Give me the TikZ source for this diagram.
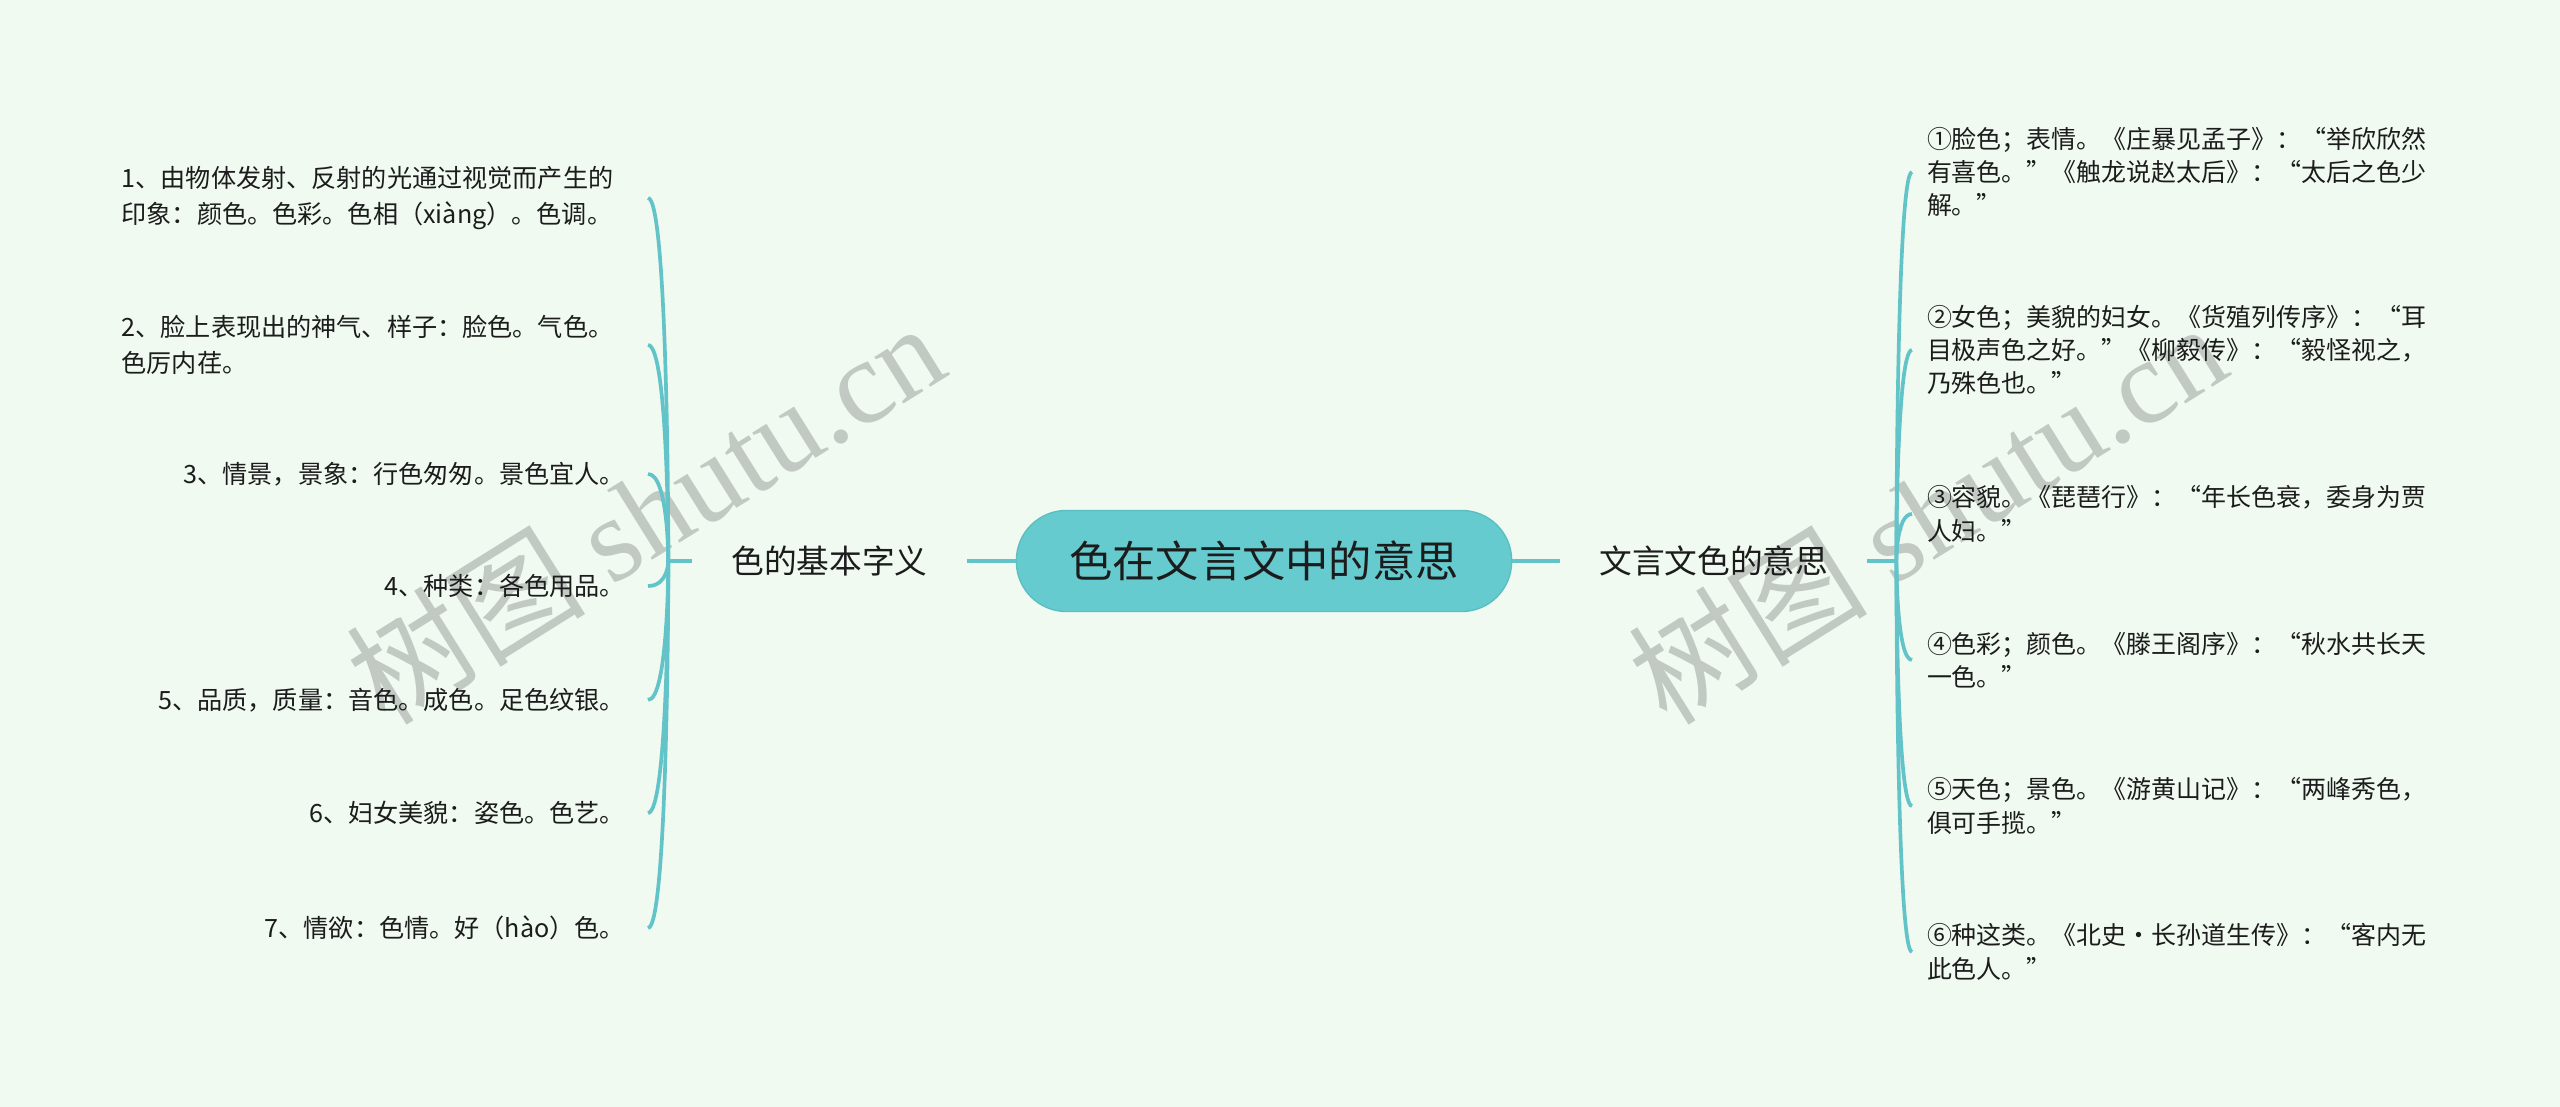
\documentclass[tikz,border=0pt]{standalone}
\usepackage{fontspec}
\setmainfont{Noto Sans CJK SC}
\newfontfamily\wmserif{Liberation Serif}
\usetikzlibrary{positioning}

\definecolor{bgmint}{RGB}{240,250,240}
\definecolor{tealfill}{RGB}{102,203,207}
\definecolor{tealedge}{RGB}{92,190,195}
\definecolor{tealline}{RGB}{98,196,201}
\definecolor{wmgray}{RGB}{194,201,195}
\definecolor{inkc}{RGB}{28,28,28}

\tikzset{
  root/.style={draw=tealedge, fill=tealfill, rounded corners=0.5cm, minimum width=4.95cm, minimum height=1.01cm, inner sep=0pt, text=inkc, font=\fontsize{12.3pt}{14pt}\selectfont},
  branch/.style={inner sep=0pt, outer xsep=0.39cm, text=inkc, font=\fontsize{9.3pt}{11pt}\selectfont},
  leafl/.style={anchor=east, text width=5.03cm, align=right, inner sep=0pt, outer xsep=0.23cm, text=inkc, font=\fontsize{7.15pt}{10.2pt}\selectfont},
  leafr/.style={anchor=west, text width=5.05cm, align=left, inner sep=0pt, outer xsep=0.15cm, text=inkc, font=\fontsize{7.1pt}{9.5pt}\selectfont},
  link/.style={draw=tealline, line width=1.05pt},
  wmark/.style={text=wmgray, inner sep=0pt, font=\fontsize{34pt}{36pt}\selectfont}
}

\begin{document}
\begin{tikzpicture}[x=0.01cm, y=-0.01cm]
  \path[use as bounding box, fill=bgmint] (0,0) rectangle (2560,1107);

  % watermarks
  \node (wm1) [wmark, rotate=32] at (645,512) {树图 {\wmserif shutu.cn}};
  \node (wm2) [wmark, rotate=32] at (1927,512) {树图 {\wmserif shutu.cn}};

  \node (root) [root] at (1264,561) {色在文言文中的意思};
  \node (bl) [branch, left=0.49cm of root] {色的基本字义};
  \node (br) [branch, right=0.48cm of root] {文言文色的意思};
  \coordinate [left=0.24cm of bl] (kl);
  \coordinate [right=0.29cm of br] (kr);

  % left leaves
  \node (l1) [leafl, align=left] at (648,198) {1、由物体发射、反射的光通过视觉而产生的\\印象：颜色。色彩。色相（xiàng）。色调。};
  \node (l2) [leafl, align=left] at (648,345) {2、脸上表现出的神气、样子：脸色。气色。\\色厉内荏。};
  \node (l3) [leafl] at (648,474) {3、情景，景象：行色匆匆。景色宜人。};
  \node (l4) [leafl] at (648,586) {4、种类：各色用品。};
  \node (l5) [leafl] at (648,700) {5、品质，质量：音色。成色。足色纹银。};
  \node (l6) [leafl] at (648,813) {6、妇女美貌：姿色。色艺。};
  \node (l7) [leafl] at (648,928) {7、情欲：色情。好（hào）色。};

  % right leaves
  \node (r1) [leafr] at (1912,172) {①脸色；表情。《庄暴见孟子》：“举欣欣然\\有喜色。”《触龙说赵太后》：“太后之色少\\解。”};
  \node (r2) [leafr] at (1912,350) {②女色；美貌的妇女。《货殖列传序》：“耳\\目极声色之好。”《柳毅传》：“毅怪视之，\\乃殊色也。”};
  \node (r3) [leafr] at (1912,514) {③容貌。《琵琶行》：“年长色衰，委身为贾\\人妇。”};
  \node (r4) [leafr] at (1912,660) {④色彩；颜色。《滕王阁序》：“秋水共长天\\一色。”};
  \node (r5) [leafr] at (1912,806) {⑤天色；景色。《游黄山记》：“两峰秀色，\\俱可手揽。”};
  \node (r6) [leafr] at (1912,952) {⑥种这类。《北史·长孙道生传》：“客内无\\此色人。”};

  \draw[link] (root) -- (bl);
  \draw[link] (root) -- (br);
  \draw[link] (bl) -- (kl);
  \draw[link] (br) -- (kr);

  \draw[link] (kl) .. controls (kl) and (kl |- l1) .. (l1.east);
  \draw[link] (kl) .. controls (kl) and (kl |- l2) .. (l2.east);
  \draw[link] (kl) .. controls (kl) and (kl |- l3) .. (l3.east);
  \draw[link] (kl) .. controls (kl) and (kl |- l4) .. (l4.east);
  \draw[link] (kl) .. controls (kl) and (kl |- l5) .. (l5.east);
  \draw[link] (kl) .. controls (kl) and (kl |- l6) .. (l6.east);
  \draw[link] (kl) .. controls (kl) and (kl |- l7) .. (l7.east);

  \draw[link] (kr) .. controls (kr) and (kr |- r1) .. (r1.west);
  \draw[link] (kr) .. controls (kr) and (kr |- r2) .. (r2.west);
  \draw[link] (kr) .. controls (kr) and (kr |- r3) .. (r3.west);
  \draw[link] (kr) .. controls (kr) and (kr |- r4) .. (r4.west);
  \draw[link] (kr) .. controls (kr) and (kr |- r5) .. (r5.west);
  \draw[link] (kr) .. controls (kr) and (kr |- r6) .. (r6.west);
\end{tikzpicture}
\end{document}
